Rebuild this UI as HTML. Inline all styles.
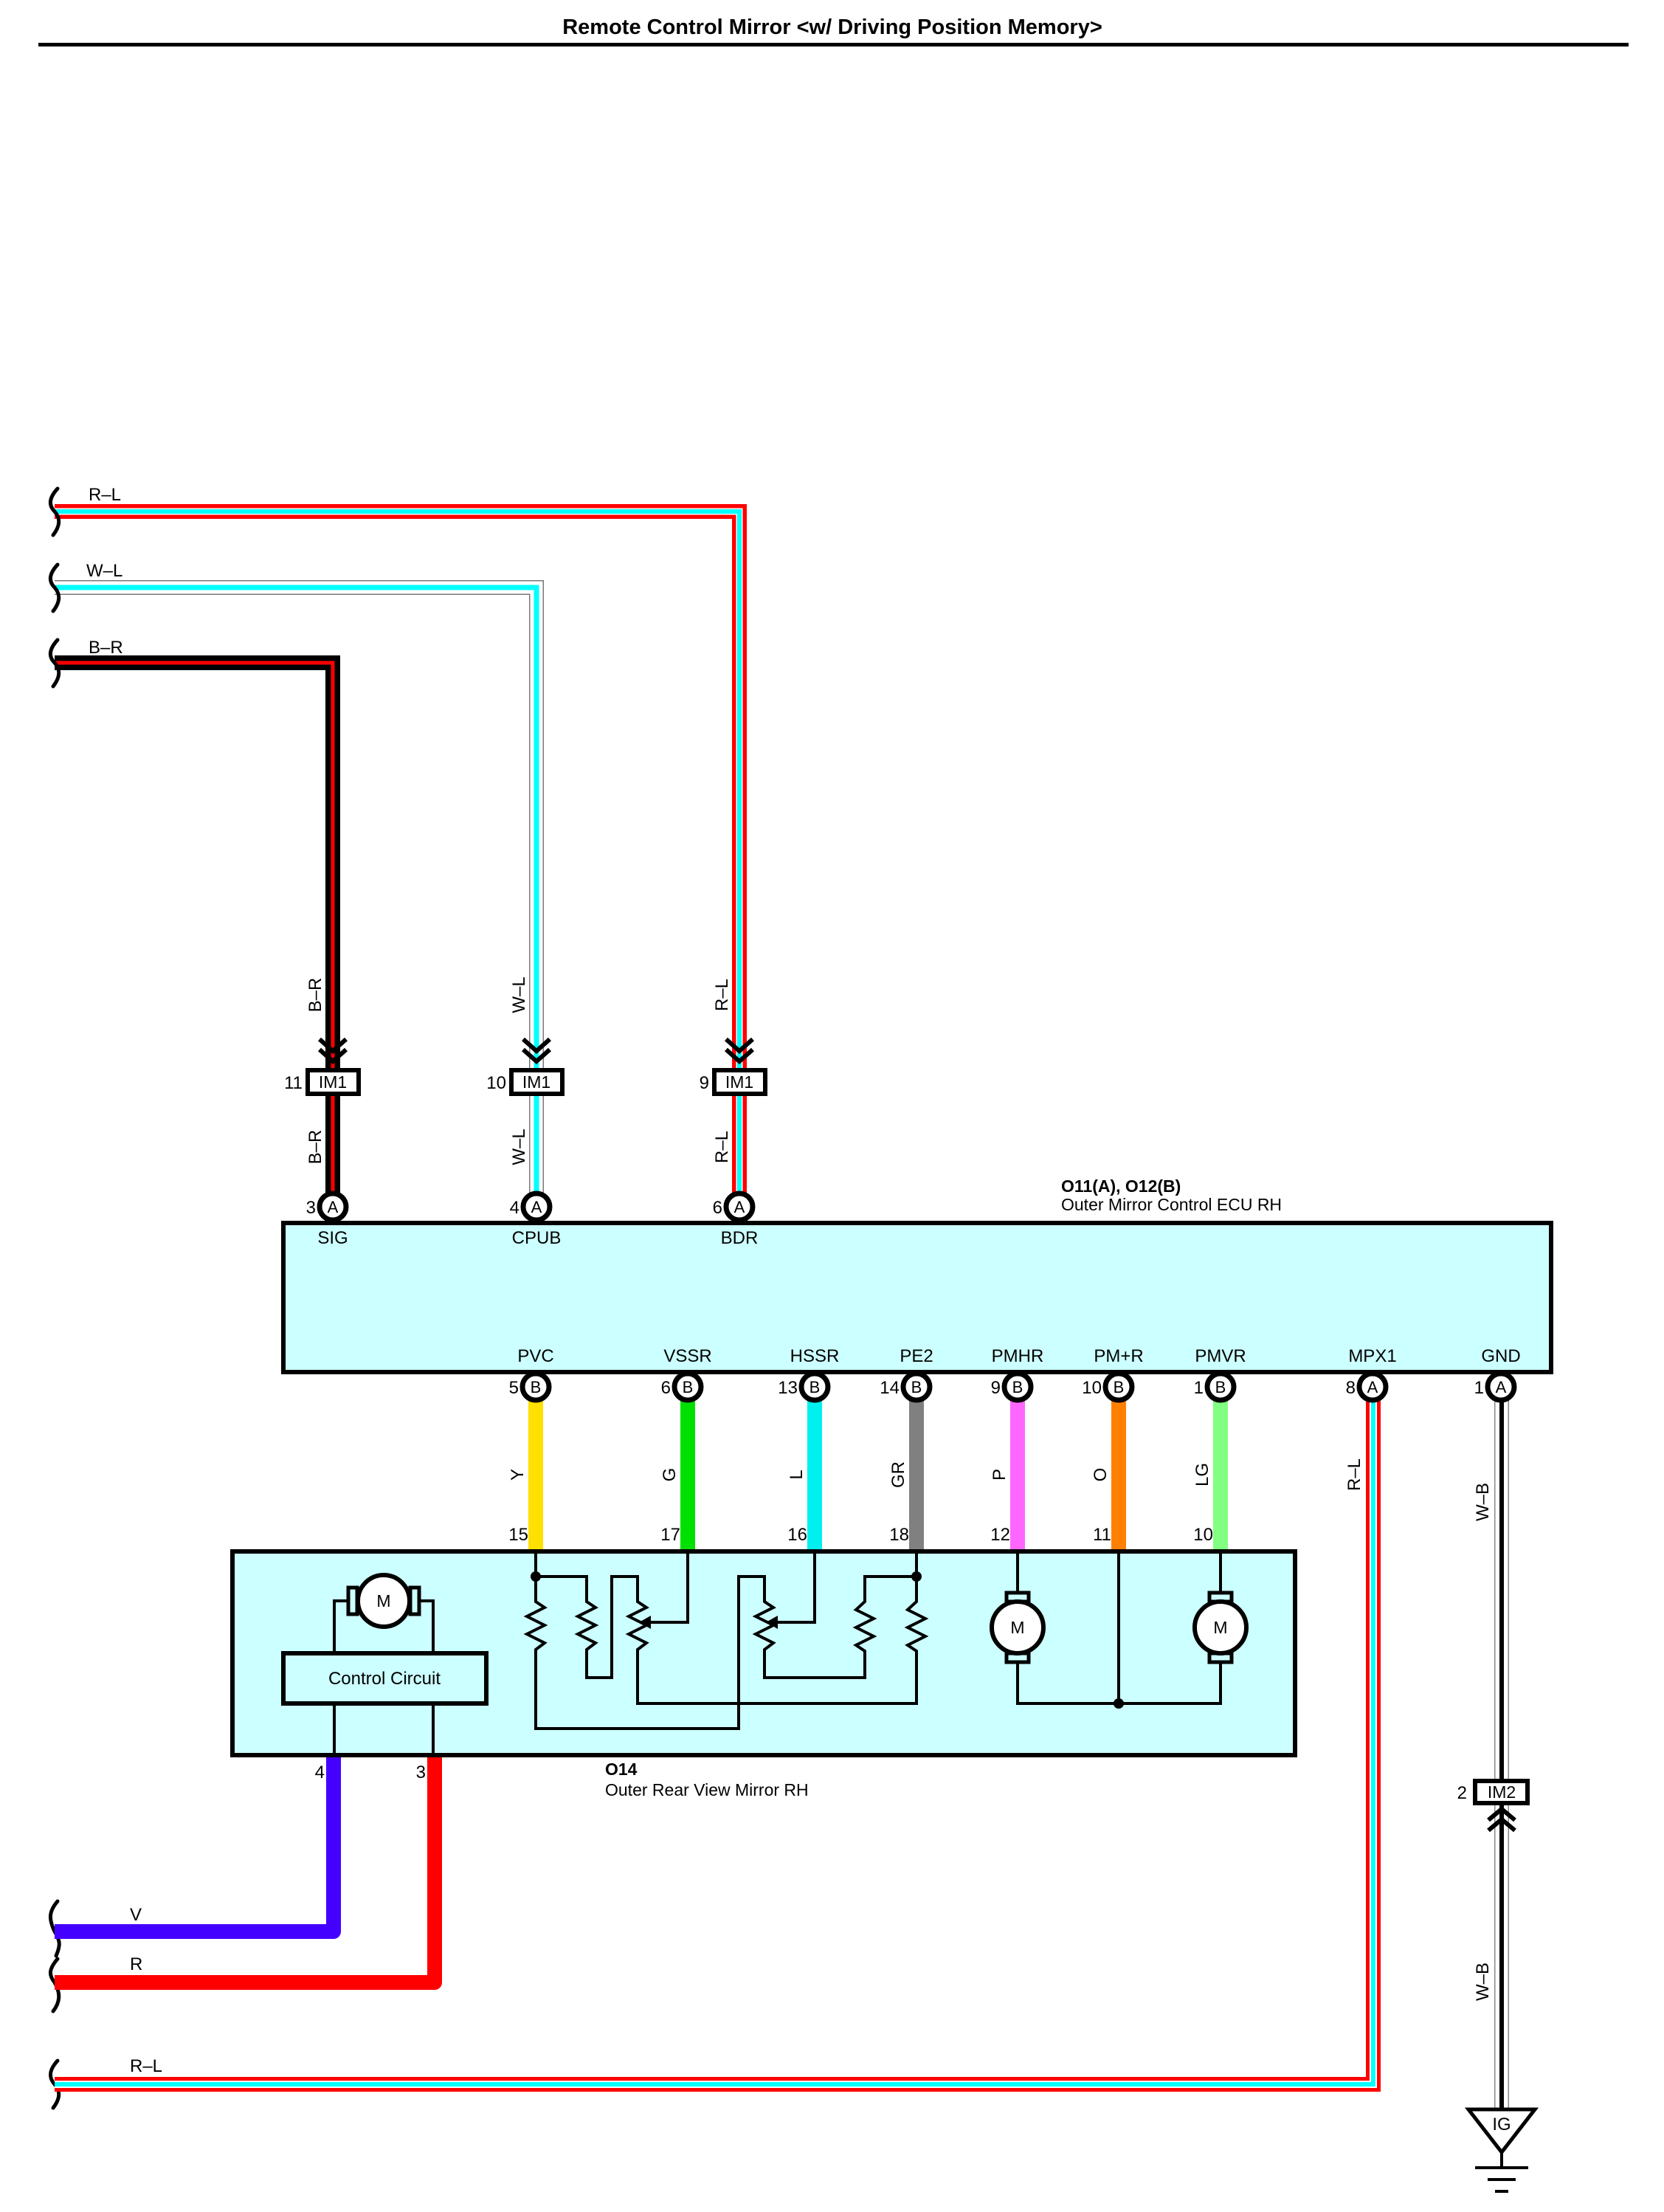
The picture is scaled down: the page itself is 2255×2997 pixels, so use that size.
<!DOCTYPE html>
<html><head><meta charset="utf-8"><style>
html,body{margin:0;padding:0;background:#fff;}
svg{display:block;font-family:"Liberation Sans",sans-serif;}
</style></head><body>
<svg width="2255" height="2997" viewBox="0 0 2255 2997" xmlns="http://www.w3.org/2000/svg">
<rect width="2255" height="2997" fill="#fff"/>
<text x="1128" y="46" font-size="29" font-weight="bold" text-anchor="middle">Remote Control Mirror &lt;w/ Driving Position Memory&gt;</text>
<rect x="52" y="58" width="2155" height="5" fill="#000"/>

<g fill="none" stroke-linejoin="miter">
  <path d="M74,693 H1002 V1625" stroke="#f00" stroke-width="20"/>
  <path d="M74,693 H1002 V1625" stroke="#fff" stroke-width="9"/>
  <path d="M74,693 H1002 V1625" stroke="#0ff" stroke-width="6"/>

  <path d="M74,796 H727 V1625" stroke="#777" stroke-width="20"/>
  <path d="M74,796 H727 V1625" stroke="#fff" stroke-width="17"/>
  <path d="M74,796 H727 V1625" stroke="#0ff" stroke-width="7"/>

  <path d="M74,898 H451 V1625" stroke="#000" stroke-width="20"/>
  <path d="M74,898 H451 V1625" stroke="#f00" stroke-width="5"/>
</g>
<g fill="none" stroke="#000" stroke-width="5" stroke-linecap="round">
  <path d="M78,662 C66,675 66,685 74,693 C82,702 82,712 72,725"/>
  <path d="M78,765 C66,778 66,788 74,796 C82,805 82,815 72,828"/>
  <path d="M78,867 C66,880 66,890 74,898 C82,907 82,917 72,930"/>
  <path d="M78,2576 C66,2590 66,2600 74,2617 C82,2630 82,2636 76,2650"/>
  <path d="M78,2654 C66,2668 66,2676 74,2686 C82,2700 82,2712 72,2725"/>
  <path d="M78,2792 C66,2805 66,2815 74,2824 C82,2833 82,2843 72,2856"/>
</g>
<g font-size="24">
  <text x="120" y="678">R–L</text>
  <text x="117" y="781">W–L</text>
  <text x="120" y="885">B–R</text>
</g>
<g font-size="24" text-anchor="middle">
  <text transform="translate(435,1348) rotate(-90)">B–R</text>
  <text transform="translate(435,1554) rotate(-90)">B–R</text>
  <text transform="translate(711,1348) rotate(-90)">W–L</text>
  <text transform="translate(711,1554) rotate(-90)">W–L</text>
  <text transform="translate(986,1348) rotate(-90)">R–L</text>
  <text transform="translate(986,1554) rotate(-90)">R–L</text>
</g>
<g fill="none" stroke="#000" stroke-width="6">
  <path d="M433,1408 L451,1424 L469,1408 M433,1422 L451,1438 L469,1422"/>
  <path d="M709,1408 L727,1424 L745,1408 M709,1422 L727,1438 L745,1422"/>
  <path d="M984,1408 L1002,1424 L1020,1408 M984,1422 L1002,1438 L1020,1422"/>
</g>
<g stroke="#000" stroke-width="6" fill="#fff">
  <rect x="417" y="1450" width="69" height="32"/>
  <rect x="693" y="1450" width="69" height="32"/>
  <rect x="968" y="1450" width="69" height="32"/>
</g>
<g font-size="23" text-anchor="middle">
  <text x="451" y="1474">IM1</text><text x="727" y="1474">IM1</text><text x="1002" y="1474">IM1</text>
</g>
<g font-size="24" text-anchor="end">
  <text x="410" y="1475">11</text><text x="686" y="1475">10</text><text x="961" y="1475">9</text>
</g>

<rect x="384" y="1657" width="1718" height="202" fill="#ccffff" stroke="#000" stroke-width="6"/>
<text x="1438" y="1615" font-size="23" font-weight="bold">O11(A), O12(B)</text>
<text x="1438" y="1640" font-size="23">Outer Mirror Control ECU RH</text>
<g font-size="24" text-anchor="middle">
  <text x="451" y="1685">SIG</text><text x="727" y="1685">CPUB</text><text x="1002" y="1685">BDR</text>
  <text x="726" y="1845">PVC</text><text x="932" y="1845">VSSR</text><text x="1104" y="1845">HSSR</text>
  <text x="1242" y="1845">PE2</text><text x="1379" y="1845">PMHR</text><text x="1516" y="1845">PM+R</text>
  <text x="1654" y="1845">PMVR</text><text x="1860" y="1845">MPX1</text><text x="2034" y="1845">GND</text>
</g>

<g>
  <rect x="716" y="1890" width="20" height="212" fill="#ffe000"/>
  <rect x="922" y="1890" width="20" height="212" fill="#00e000"/>
  <rect x="1094" y="1890" width="20" height="212" fill="#00f0f0"/>
  <rect x="1232" y="1890" width="20" height="212" fill="#808080"/>
  <rect x="1369" y="1890" width="20" height="212" fill="#ff66ff"/>
  <rect x="1506" y="1890" width="20" height="212" fill="#ff8000"/>
  <rect x="1644" y="1890" width="20" height="212" fill="#80ff80"/>
</g>
<g font-size="24" text-anchor="middle">
  <text transform="translate(709,1998) rotate(-90)">Y</text>
  <text transform="translate(915,1998) rotate(-90)">G</text>
  <text transform="translate(1087,1998) rotate(-90)">L</text>
  <text transform="translate(1225,1998) rotate(-90)">GR</text>
  <text transform="translate(1362,1998) rotate(-90)">P</text>
  <text transform="translate(1499,1998) rotate(-90)">O</text>
  <text transform="translate(1637,1998) rotate(-90)">LG</text>
</g>
<g font-size="24" text-anchor="end">
  <text x="716" y="2087">15</text><text x="922" y="2087">17</text><text x="1094" y="2087">16</text>
  <text x="1232" y="2087">18</text><text x="1369" y="2087">12</text><text x="1506" y="2087">11</text><text x="1644" y="2087">10</text>
</g>

<g fill="none">
  <path d="M74,2824 H1861 V1890" stroke="#f00" stroke-width="20"/>
  <path d="M74,2824 H1861 V1890" stroke="#fff" stroke-width="10"/>
  <path d="M74,2824 H1861 V1890" stroke="#0ff" stroke-width="6"/>
</g>
<text x="176" y="2807" font-size="24">R–L</text>
<text transform="translate(1843,1998) rotate(-90)" font-size="24" text-anchor="middle">R–L</text>

<g fill="none">
  <path d="M2035,1890 V2880" stroke="#888" stroke-width="20"/>
  <path d="M2035,1890 V2880" stroke="#fff" stroke-width="17"/>
  <path d="M2035,1890 V2880" stroke="#000" stroke-width="6"/>
</g>
<text transform="translate(2017,2035) rotate(-90)" font-size="24" text-anchor="middle">W–B</text>
<text transform="translate(2017,2685) rotate(-90)" font-size="24" text-anchor="middle">W–B</text>
<rect x="1999" y="2413" width="71" height="30" fill="#fff" stroke="#000" stroke-width="6"/>
<text x="2035" y="2436" font-size="23" text-anchor="middle">IM2</text>
<text x="1988" y="2437" font-size="24" text-anchor="end">2</text>
<path d="M2017,2466 L2035,2451 L2053,2466 M2017,2480 L2035,2465 L2053,2480" fill="none" stroke="#000" stroke-width="6"/>
<path d="M1990,2858 H2080 L2035,2916 Z" fill="#fff" stroke="#000" stroke-width="5"/>
<text x="2035" y="2886" font-size="24" text-anchor="middle">IG</text>
<g stroke="#000" stroke-width="4">
  <line x1="2035" y1="2916" x2="2035" y2="2937"/>
  <line x1="1999" y1="2937" x2="2071" y2="2937"/>
  <line x1="2016" y1="2953" x2="2054" y2="2953"/>
  <line x1="2026" y1="2969" x2="2044" y2="2969"/>
</g>

<path d="M452,2378 V2617 H74" fill="none" stroke="#4400ff" stroke-width="20" stroke-linejoin="round"/>
<path d="M589,2378 V2686 H74" fill="none" stroke="#f00" stroke-width="20" stroke-linejoin="round"/>
<text x="176" y="2602" font-size="24">V</text>
<text x="176" y="2669" font-size="24">R</text>
<text x="440" y="2409" font-size="24" text-anchor="end">4</text>
<text x="577" y="2409" font-size="24" text-anchor="end">3</text>

<rect x="315" y="2102" width="1440" height="276" fill="#ccffff" stroke="#000" stroke-width="6"/>
<text x="820" y="2405" font-size="23" font-weight="bold">O14</text>
<text x="820" y="2433" font-size="23">Outer Rear View Mirror RH</text>

<g stroke="#000" stroke-width="7" fill="#fff">
  <circle cx="451" cy="1635" r="18"/><circle cx="727" cy="1635" r="18"/><circle cx="1002" cy="1635" r="18"/>
  <circle cx="726" cy="1879" r="18"/><circle cx="932" cy="1879" r="18"/><circle cx="1104" cy="1879" r="18"/>
  <circle cx="1242" cy="1879" r="18"/><circle cx="1379" cy="1879" r="18"/><circle cx="1516" cy="1879" r="18"/>
  <circle cx="1654" cy="1879" r="18"/><circle cx="1860" cy="1879" r="18"/><circle cx="2034" cy="1879" r="18"/>
</g>
<g font-size="22" text-anchor="middle">
  <text x="451" y="1643">A</text><text x="727" y="1643">A</text><text x="1002" y="1643">A</text>
  <text x="726" y="1887">B</text><text x="932" y="1887">B</text><text x="1104" y="1887">B</text>
  <text x="1242" y="1887">B</text><text x="1379" y="1887">B</text><text x="1516" y="1887">B</text>
  <text x="1654" y="1887">B</text><text x="1860" y="1887">A</text><text x="2034" y="1887">A</text>
</g>
<g font-size="24" text-anchor="end">
  <text x="428" y="1644">3</text><text x="704" y="1644">4</text><text x="979" y="1644">6</text>
  <text x="703" y="1888">5</text><text x="909" y="1888">6</text><text x="1081" y="1888">13</text>
  <text x="1219" y="1888">14</text><text x="1356" y="1888">9</text><text x="1493" y="1888">10</text>
  <text x="1631" y="1888">1</text><text x="1837" y="1888">8</text><text x="2011" y="1888">1</text>
</g>

<g fill="none" stroke="#000" stroke-width="4" stroke-linejoin="miter">
  <path d="M726,2102 V2170 l12,8 l-24,12 l24,12 l-24,12 l24,12 l-12,9 V2342 H1001 V2136 H1036 V2170 l12,8 l-24,12 l24,12 l-24,12 l24,12 l-12,9 V2273 H1172 V2237 l-12,-8 l24,-12 l-24,-12 l24,-12 l-24,-12 l12,-11 V2136 H1242"/>
  <path d="M726,2136 H795 V2170 l12,8 l-24,12 l24,12 l-24,12 l24,12 l-12,9 V2273 H829 V2136 H864 V2170 l12,8 l-24,12 l24,12 l-24,12 l24,12 l-12,9 V2308 H1242 V2237 l-12,-8 l24,-12 l-24,-12 l24,-12 l-24,-12 l12,-11 V2102"/>
  <path d="M932,2102 V2198 H880"/>
  <path d="M1104,2102 V2198 H1052"/>
  <path d="M1379,2102 V2160 M1379,2250 V2308 H1654 V2250 M1654,2160 V2102 M1516,2102 V2308"/>
  <rect x="1364" y="2158" width="30" height="12" stroke-width="5"/>
  <rect x="1364" y="2240" width="30" height="12" stroke-width="5"/>
  <rect x="1639" y="2158" width="30" height="12" stroke-width="5"/>
  <rect x="1639" y="2240" width="30" height="12" stroke-width="5"/>
  <path d="M474,2169 H453 V2240 M566,2169 H587 V2240 M453,2308 V2378 M587,2308 V2378"/>
  <rect x="472" y="2151" width="12" height="36" stroke-width="5"/>
  <rect x="556" y="2151" width="12" height="36" stroke-width="5"/>
</g>
<g stroke="#000" stroke-width="6" fill="#fff">
  <circle cx="1379" cy="2205" r="35"/>
  <circle cx="1654" cy="2205" r="35"/>
  <circle cx="520" cy="2169" r="35"/>
</g>
<rect x="384" y="2240" width="275" height="68" fill="#ccffff" stroke="#000" stroke-width="6"/>
<text x="521" y="2282" font-size="24" text-anchor="middle">Control Circuit</text>
<g font-size="23" text-anchor="middle">
  <text x="1379" y="2213">M</text><text x="1654" y="2213">M</text><text x="520" y="2177">M</text>
</g>
<g fill="#000">
  <path d="M866,2198 L882,2189 L882,2207 Z"/>
  <path d="M1038,2198 L1054,2189 L1054,2207 Z"/>
  <circle cx="726" cy="2136" r="7"/>
  <circle cx="1242" cy="2136" r="7"/>
  <circle cx="1516" cy="2308" r="7"/>
</g>
</svg>
</body></html>
